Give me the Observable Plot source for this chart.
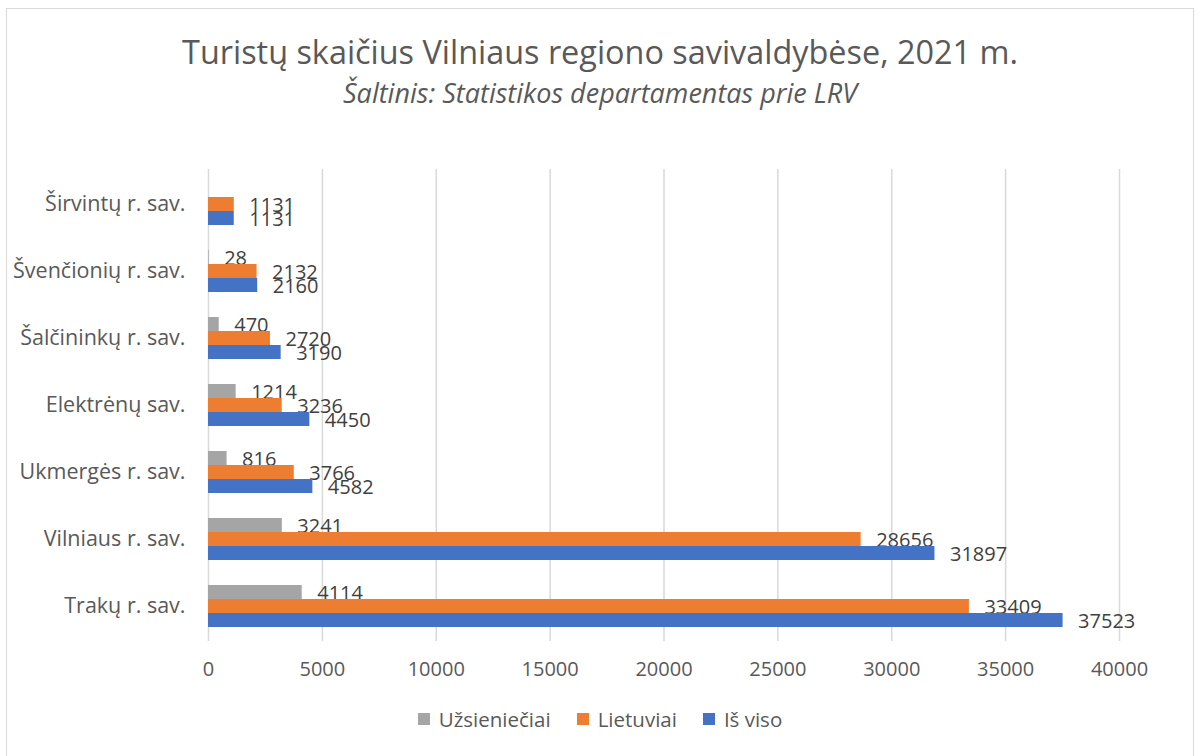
<!DOCTYPE html>
<html>
<head>
<meta charset="utf-8">
<script src="https://cdn.jsdelivr.net/npm/d3@7"></script>
<script src="https://cdn.jsdelivr.net/npm/@observablehq/plot@0.6"></script>
<style>
  html, body { margin: 0; padding: 0; background: #fff; }
  #wrap { position: relative; width: 1200px; height: 756px; overflow: hidden; font-family: "Open Sans", sans-serif; color: #595959; }
  #frame { position: absolute; left: 6px; top: 8px; width: 1188px; height: 780px; border: 1.5px solid #D9D9D9; box-sizing: border-box; }
  #title { position: absolute; left: 0; width: 1200px; top: 30px; text-align: center; font-size: 32.4px; line-height: 42px; white-space: nowrap; }
  #subtitle { position: absolute; left: 0; width: 1200px; top: 75px; text-align: center; font-size: 27px; line-height: 36px; font-style: italic; white-space: nowrap; }
  #chart { position: absolute; left: 0; top: 130px; }
  #legend { position: absolute; left: 0; width: 1200px; top: 705px; display: flex; justify-content: center; gap: 26px; font-size: 20.5px; line-height: 28px; }
  .item { display: flex; align-items: center; gap: 9px; }
  .sw { width: 12px; height: 12px; display: inline-block; }
</style>
</head>
<body>
<div id="wrap">
  <div id="frame"></div>
  <div id="title"></div>
  <div id="subtitle"></div>
  <div id="chart"></div>
  <div id="legend"></div>
</div>
<script>
const titleText = "Turistų skaičius Vilniaus regiono savivaldybėse, 2021 m.";
const subtitleText = "Šaltinis: Statistikos departamentas prie LRV";

// top-to-bottom order
const categories = ["Širvintų r. sav.", "Švenčionių r. sav.", "Šalčininkų r. sav.", "Elektrėnų sav.", "Ukmergės r. sav.", "Vilniaus r. sav.", "Trakų r. sav."];
const seriesNames = ["Užsieniečiai", "Lietuviai", "Iš viso"];
const seriesColors = ["#A5A5A5", "#ED7D31", "#4472C4"];
const uzsienieciai = [null, 28, 470, 1214, 816, 3241, 4114];
const lietuviai = [1131, 2132, 2720, 3236, 3766, 28656, 33409];
const isViso = [1131, 2160, 3190, 4450, 4582, 31897, 37523];
const xTicks = [0, 5000, 10000, 15000, 20000, 25000, 30000, 35000, 40000];

const seriesValues = [uzsienieciai, lietuviai, isViso];

document.getElementById("title").textContent = titleText;
document.getElementById("subtitle").textContent = subtitleText;

const barH = 14;
const marks = [
  Plot.gridX(xTicks, {stroke: "#D9D9D9", strokeOpacity: 1, strokeWidth: 1.5})
];
seriesValues.forEach((vals, i) => {
  const rows = categories.map((c, j) => ({category: c, value: vals[j]})).filter(d => d.value != null);
  const off = (i - 1) * barH;
  marks.push(Plot.barX(rows, {x: "value", y: "category", fill: seriesColors[i], dy: off}));
  marks.push(Plot.text(rows, {x: "value", y: "category", text: d => String(d.value), dy: off + 1, dx: 15, textAnchor: "start", fill: "#404040", fontSize: 20}));
});

const chart = Plot.plot({
  width: 1200,
  height: 560,
  marginTop: 39,
  marginBottom: 49,
  marginLeft: 208,
  marginRight: 81,
  style: {fontFamily: "Open Sans", fontSize: "20px", color: "#595959", background: "transparent"},
  x: {domain: [0, 40000], ticks: xTicks, tickFormat: d => String(d), label: null, tickSize: 0, tickPadding: 20},
  y: {domain: categories, paddingInner: 0.7926, paddingOuter: 0.3963, label: null, tickSize: 0, tickPadding: 23},
  marks: marks
});
chart.querySelectorAll("g[aria-label='y-axis tick label'] text, g[aria-label='y-axis tick label']").forEach(el => el.setAttribute("font-size", "21.5"));
document.getElementById("chart").appendChild(chart);

const legend = document.getElementById("legend");
seriesNames.forEach((n, i) => {
  const it = document.createElement("div");
  it.className = "item";
  const sw = document.createElement("span");
  sw.className = "sw";
  sw.style.background = seriesColors[i];
  const t = document.createElement("span");
  t.textContent = n;
  it.appendChild(sw);
  it.appendChild(t);
  legend.appendChild(it);
});
</script>
</body>
</html>
